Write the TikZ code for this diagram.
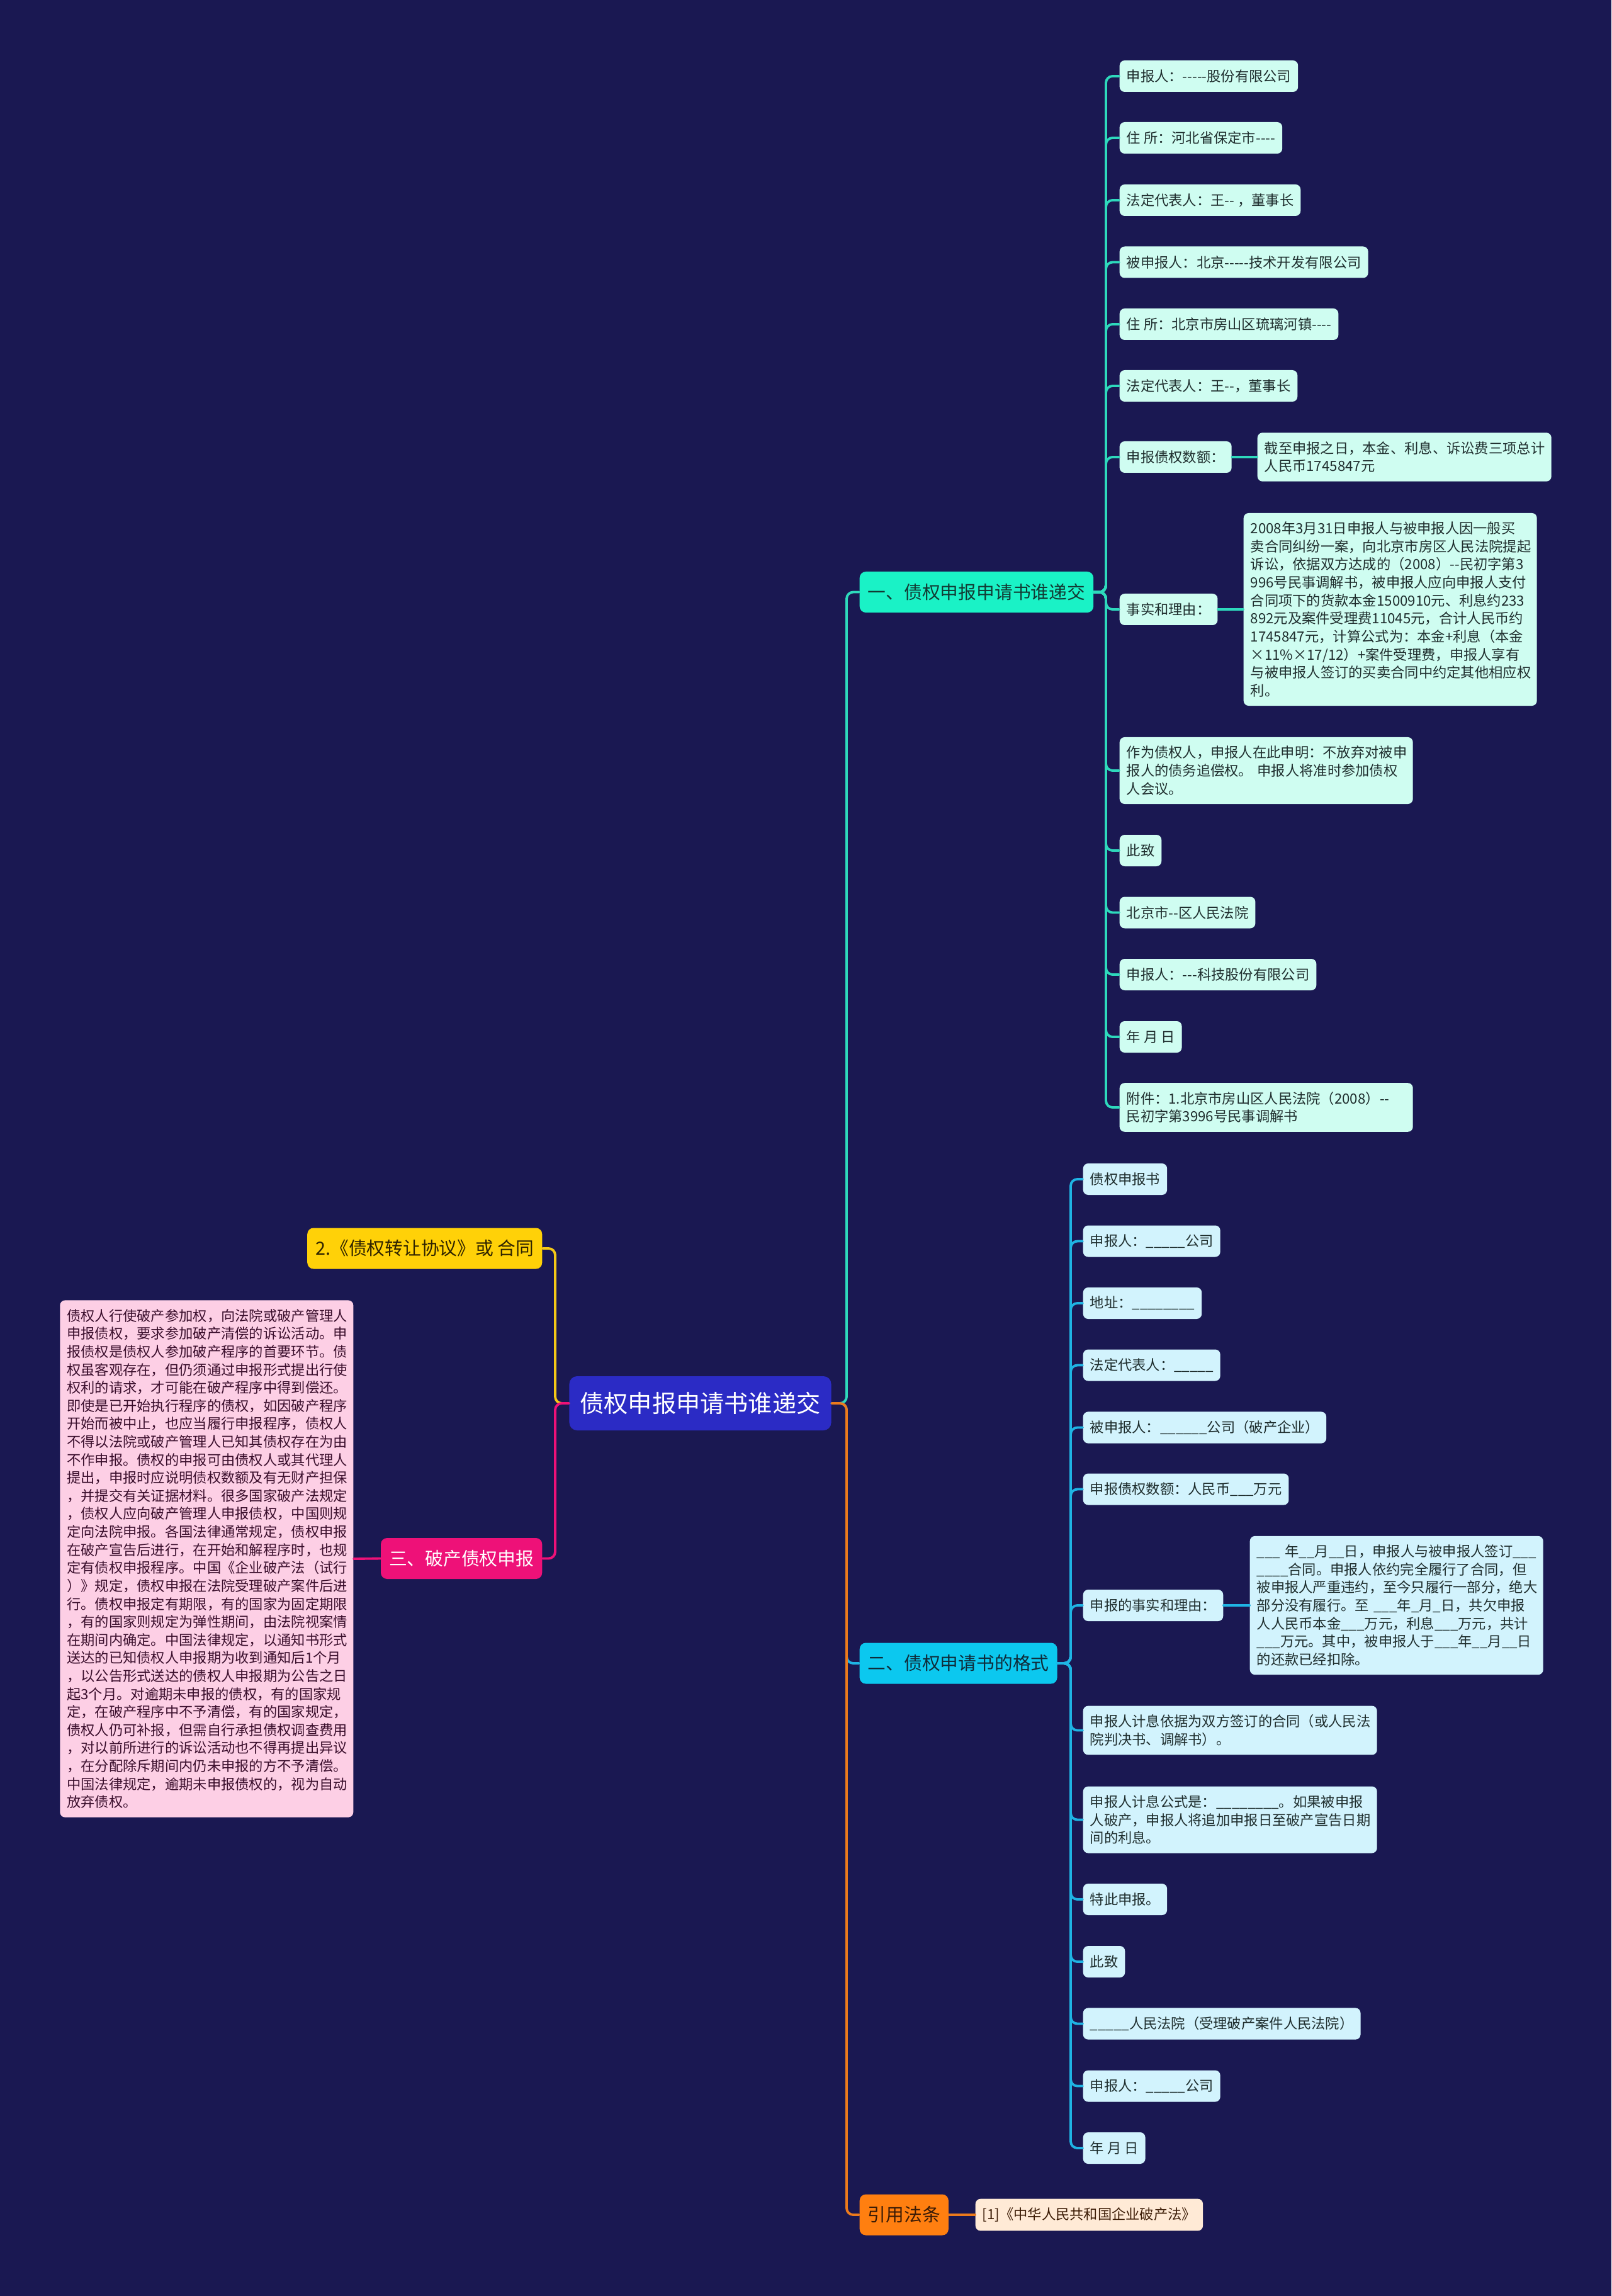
\documentclass[tikz,border=0pt]{standalone}
\usepackage{fontspec}
\setmainfont{Noto Sans CJK SC}[Ligatures=TeXOff]
\usepackage{tikz}
\definecolor{bg}{HTML}{1A1852}
\definecolor{rootblue}{HTML}{2B2BC5}
\definecolor{mintmain}{HTML}{1AF2C6}
\definecolor{mintline}{HTML}{2ED9BC}
\definecolor{mintleaf}{HTML}{CFFDF1}
\definecolor{mintink}{HTML}{123A33}
\definecolor{skymain}{HTML}{0CC8EF}
\definecolor{skyline}{HTML}{1FB4E4}
\definecolor{skyleaf}{HTML}{D2F3FD}
\definecolor{skyink}{HTML}{0F2C3A}
\definecolor{rosemain}{HTML}{EE1178}
\definecolor{roseleaf}{HTML}{FDCFE5}
\definecolor{roseink}{HTML}{3A0E2C}
\definecolor{goldmain}{HTML}{FFD108}
\definecolor{goldline}{HTML}{F4C817}
\definecolor{goldink}{HTML}{2E2300}
\definecolor{orangemain}{HTML}{FF7F10}
\definecolor{orangeline}{HTML}{EC7A1C}
\definecolor{peachleaf}{HTML}{FFEAD6}
\definecolor{orangeink}{HTML}{3C1C06}
\definecolor{leafink}{HTML}{1F2E2E}
\tikzset{
  rootbox/.style={
    fill=rootblue, text=white, rounded corners=3.5pt,
    inner xsep=0.17cm, inner ysep=0.1cm, minimum height=0.86cm,
    font=\fontsize{10.87pt}{13pt}\selectfont
  },
  branch/.style={
    anchor=west, rounded corners=2.8pt,
    inner xsep=0.13cm, inner ysep=0.1cm, minimum height=0.65cm,
    font=\fontsize{8.19pt}{10pt}\selectfont
  },
  leaf/.style={
    anchor=west, rounded corners=2.3pt,
    inner xsep=0.11cm, inner ysep=0.14cm, minimum height=0.5cm,
    font=\fontsize{6.34pt}{8.14pt}\selectfont
  },
  leafA/.style={leaf, fill=mintleaf, text=leafink},
  leafB/.style={leaf, fill=skyleaf, text=leafink},
  leafC/.style={leaf, fill=roseleaf, text=roseink},
  leafE/.style={leaf, fill=peachleaf, text=orangeink},
  link/.style={line width=1.1pt, rounded corners=3pt},
  linkA/.style={link, draw=mintline},
  linkB/.style={link, draw=skyline},
  linkC/.style={link, draw=rosemain},
  linkD/.style={link, draw=goldline},
  linkE/.style={link, draw=orangeline}
}

\begin{document}
\begin{tikzpicture}[line cap=round, line join=round]
  \useasboundingbox (0,0) rectangle (25.6,-36.47);
  \fill[bg] (0,0) rectangle (25.6,-36.47);

  % trunk positions of the four forks
  \coordinate (tr) at (13.45,0);  % right of the centre
  \coordinate (tl) at (8.82,0);   % left of the centre
  \coordinate (t1) at (17.57,0);  % branch one
  \coordinate (t2) at (17.01,0);  % branch two

  % centre
  \node[rootbox] (root) at (11.125,-22.29) {债权申报申请书谁递交};

  % main branches
  \node[branch, fill=mintmain, text=mintink] (b1) at (13.65,-9.405) {一、债权申报申请书谁递交};
  \node[branch, fill=skymain, text=skyink] (b2) at (13.65,-26.42) {二、债权申请书的格式};
  \node[branch, fill=orangemain, text=orangeink] (b5) at (13.65,-35.18) {引用法条};
  \node[branch, fill=goldmain, text=goldink, anchor=east] (b4) at (8.62,-19.83) {2.《债权转让协议》或 合同};
  \node[branch, fill=rosemain, text=white, anchor=east] (b3) at (8.62,-24.755) {三、破产债权申报};

  % branch one leaves
  \node[leafA] (a1) at (17.78,-1.21) {申报人：-----股份有限公司};
  \node[leafA] (a2) at (17.78,-2.19) {住 所：河北省保定市----};
  \node[leafA] (a3) at (17.78,-3.18) {法定代表人：王-- ，董事长};
  \node[leafA] (a4) at (17.78,-4.165) {被申报人：北京-----技术开发有限公司};
  \node[leafA] (a5) at (17.78,-5.15) {住 所：北京市房山区琉璃河镇----};
  \node[leafA] (a6) at (17.78,-6.13) {法定代表人：王--，董事长};
  \node[leafA] (a7) at (17.78,-7.26) {申报债权数额：};
  \node[leafA, text width=4.45cm, align=left] (a7c) at (19.97,-7.26)
    {截至申报之日，本金、利息、诉讼费三项总计\\人民币1745847元};
  \node[leafA] (a8) at (17.78,-9.68) {事实和理由：};
  \node[leafA, text width=4.44cm, align=left] (a8c) at (19.75,-9.68)
    {2008年3月31日申报人与被申报人因一般买\\
     卖合同纠纷一案，向北京市房区人民法院提起\\
     诉讼，依据双方达成的（2008）--民初字第3\\
     996号民事调解书，被申报人应向申报人支付\\
     合同项下的货款本金1500910元、利息约233\\
     892元及案件受理费11045元，合计人民币约\\
     1745847元，计算公式为：本金+利息（本金\\
     ×11\%×17/12）+案件受理费，申报人享有\\
     与被申报人签订的买卖合同中约定其他相应权\\
     利。};
  \node[leafA, text width=4.44cm, align=left] (a9) at (17.78,-12.24)
    {作为债权人，申报人在此申明：不放弃对被申\\
     报人的债务追偿权。 申报人将准时参加债权\\
     人会议。};
  \node[leafA] (a10) at (17.78,-13.51) {此致};
  \node[leafA] (a11) at (17.78,-14.495) {北京市--区人民法院};
  \node[leafA] (a12) at (17.78,-15.48) {申报人：---科技股份有限公司};
  \node[leafA] (a13) at (17.78,-16.47) {年 月 日};
  \node[leafA, text width=4.44cm, align=left] (a14) at (17.78,-17.59)
    {附件：1.北京市房山区人民法院（2008）--\\民初字第3996号民事调解书};

  % branch two leaves
  \node[leafB] (c1) at (17.20,-18.73) {债权申报书};
  \node[leafB] (c2) at (17.20,-19.715) {申报人：\_\_\_\_\_公司};
  \node[leafB] (c3) at (17.20,-20.70) {地址：\_\_\_\_\_\_\_\_};
  \node[leafB] (c4) at (17.20,-21.685) {法定代表人：\_\_\_\_\_};
  \node[leafB] (c5) at (17.20,-22.675) {被申报人：\_\_\_\_\_\_公司（破产企业）};
  \node[leafB] (c6) at (17.20,-23.655) {申报债权数额：人民币\_\_\_万元};
  \node[leafB] (c7) at (17.20,-25.50) {申报的事实和理由：};
  \node[leafB, text width=4.44cm, align=left] (c7c) at (19.85,-25.50)
    {\_\_\_~年\_\_月\_\_日，申报人与被申报人签订\_\_\_\\
     \_\_\_\_合同。申报人依约完全履行了合同，但\\
     被申报人严重违约，至今只履行一部分，绝大\\
     部分没有履行。至~\_\_\_年\_月\_日，共欠申报\\
     人人民币本金\_\_\_万元，利息\_\_\_万元，共计\\
     \_\_\_万元。其中，被申报人于\_\_\_年\_\_月\_\_日\\
     的还款已经扣除。};
  \node[leafB, text width=4.45cm, align=left] (c8) at (17.20,-27.485)
    {申报人计息依据为双方签订的合同（或人民法\\院判决书、调解书）。};
  \node[leafB, text width=4.45cm, align=left] (c9) at (17.20,-28.905)
    {申报人计息公式是：\_\_\_\_\_\_\_\_。如果被申报\\
     人破产，申报人将追加申报日至破产宣告日期\\
     间的利息。};
  \node[leafB] (c10) at (17.20,-30.17) {特此申报。};
  \node[leafB] (c11) at (17.20,-31.16) {此致};
  \node[leafB] (c12) at (17.20,-32.145) {\_\_\_\_\_人民法院（受理破产案件人民法院）};
  \node[leafB] (c13) at (17.20,-33.135) {申报人：\_\_\_\_\_公司};
  \node[leafB] (c14) at (17.20,-34.12) {年 月 日};

  % cited law
  \node[leafE] (d1) at (15.49,-35.18) {[1]《中华人民共和国企业破产法》};

  % left long text
  \node[leafC, text width=4.44cm, align=left, anchor=east] (e1) at (5.62,-24.76)
    {债权人行使破产参加权，向法院或破产管理人\\
     申报债权，要求参加破产清偿的诉讼活动。申\\
     报债权是债权人参加破产程序的首要环节。债\\
     权虽客观存在，但仍须通过申报形式提出行使\\
     权利的请求，才可能在破产程序中得到偿还。\\
     即使是已开始执行程序的债权，如因破产程序\\
     开始而被中止，也应当履行申报程序，债权人\\
     不得以法院或破产管理人已知其债权存在为由\\
     不作申报。债权的申报可由债权人或其代理人\\
     提出，申报时应说明债权数额及有无财产担保\\
     ，并提交有关证据材料。很多国家破产法规定\\
     ，债权人应向破产管理人申报债权，中国则规\\
     定向法院申报。各国法律通常规定，债权申报\\
     在破产宣告后进行，在开始和解程序时，也规\\
     定有债权申报程序。中国《企业破产法（试行\\
     ）》规定，债权申报在法院受理破产案件后进\\
     行。债权申报定有期限，有的国家为固定期限\\
     ，有的国家则规定为弹性期间，由法院视案情\\
     在期间内确定。中国法律规定，以通知书形式\\
     送达的已知债权人申报期为收到通知后1个月\\
     ，以公告形式送达的债权人申报期为公告之日\\
     起3个月。对逾期未申报的债权，有的国家规\\
     定，在破产程序中不予清偿，有的国家规定，\\
     债权人仍可补报，但需自行承担债权调查费用\\
     ，对以前所进行的诉讼活动也不得再提出异议\\
     ，在分配除斥期间内仍未申报的方不予清偿。\\
     中国法律规定，逾期未申报债权的，视为自动\\
     放弃债权。};

  % connectors from the centre
  \foreach \b/\s in {b1/linkA, b2/linkB, b5/linkE}
    \draw[\s] (root.east) -- (root.east -| tr) |- (\b.west);
  \foreach \b/\s in {b4/linkD, b3/linkC}
    \draw[\s] (root.west) -- (root.west -| tl) |- (\b.east);

  % connectors to the leaves
  \foreach \i in {1,...,14} {
    \draw[linkA] (b1.east) -- (b1.east -| t1) |- (a\i.west);
    \draw[linkB] (b2.east) -- (b2.east -| t2) |- (c\i.west);
  }
  \draw[linkA] (a7.east) -- (a7c.west);
  \draw[linkA] (a8.east) -- (a8c.west);
  \draw[linkB] (c7.east) -- (c7c.west);
  \draw[linkE] (b5.east) -- (d1.west);
  \draw[linkC] (b3.west) -- (e1.east);
\end{tikzpicture}
\end{document}
